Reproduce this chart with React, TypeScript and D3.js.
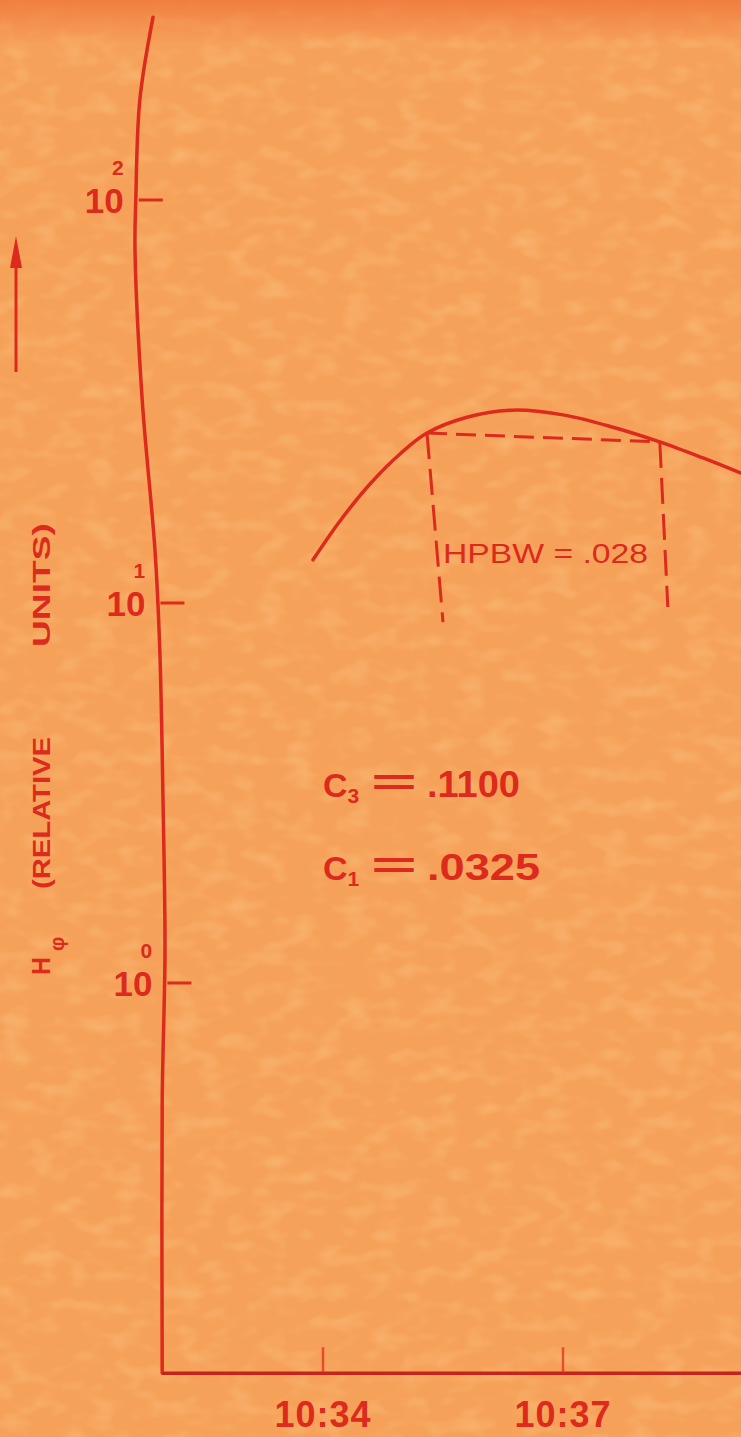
import React from "react";
import * as d3 from "d3";

// ---- data (time in minutes after 10:34, H-phi in relative units) ----
const timeTicks = [0, 3];
const timeLabels = ["10:34", "10:37"];
const yTicks = [100, 10, 1];
const yTickExp = ["2", "1", "0"];

const curveT = [-0.125, 0.2125, 0.5875, 0.9625, 1.3, 1.8, 2.375, 3.0, 3.625, 4.21, 4.75, 5.225];
const curveV = [12.8, 15.98, 19.74, 23.43, 26.4, 28.9, 30.1, 29.3, 27.3, 25.1, 22.9, 21.0];

// hand-drawn vertical axis trace
const axisTraceV = [284, 177, 100, 75.2, 31.9, 13.5, 7.5, 3.03, 1.22, 0.49, 0.094];
const axisTraceT = [-2.125, -2.29, -2.34, -2.35, -2.26, -2.1, -2.04, -2.0, -1.975, -2.01, -2.01];
const baselineV = 0.094;
const baselineEndT = 5.4;

// HPBW markers
const hpbwT = [1.3, 4.21];
const hpbwLevel = [26.4, 25.1];
const hpbwFootT = [1.5, 4.31];
const hpbwFootV = [8.9, 9.76];
const hpbwLabel = "HPBW = .028";
const hpbwLabelT = 1.5;
const hpbwLabelV = 12.6;

// coefficient annotations
const coefNames = ["C", "C"];
const coefSubs = ["3", "1"];
const coefValues = [".1100", ".0325"];
const coefT = [0.0, 0.0];
const coefV = [3.09, 1.87];

const W = 741;
const H = 1437;
const RED = "#dc2a1c";
const FONT = "'Liberation Sans', Arial, Helvetica, sans-serif";

export default function App() {
  const x = d3.scaleLinear().domain([0, 3]).range([323, 563]);
  const y = d3.scaleLog().domain([1, 10, 100]).range([983, 603, 200]);

  const axisPts = axisTraceV.map((v, i) => [axisTraceT[i], v] as [number, number]);
  const axisLine = d3
    .line<[number, number]>()
    .x((d) => x(d[0]))
    .y((d) => y(d[1]))
    .curve(d3.curveCatmullRom.alpha(0.5));
  const axisPath = axisLine(axisPts) || "";

  const axisXAt = (v: number) => {
    const lv = Math.log10(v);
    for (let i = 0; i < axisTraceV.length - 1; i++) {
      const a = Math.log10(axisTraceV[i]);
      const b = Math.log10(axisTraceV[i + 1]);
      if ((lv <= a && lv >= b) || (lv >= a && lv <= b)) {
        const f = (lv - a) / (b - a || 1);
        return x(axisTraceT[i] + f * (axisTraceT[i + 1] - axisTraceT[i]));
      }
    }
    return x(axisTraceT[axisTraceT.length - 1]);
  };

  const baseY = y(baselineV);
  const baseX0 = x(axisTraceT[axisTraceT.length - 1]);

  const curvePts = curveT.map((t, i) => [t, curveV[i]] as [number, number]);
  const curvePath =
    d3
      .line<[number, number]>()
      .x((d) => x(d[0]))
      .y((d) => y(d[1]))
      .curve(d3.curveCatmullRom.alpha(0.5))(curvePts) || "";

  return (
    <svg
      width={W}
      height={H}
      viewBox={`0 0 ${W} ${H}`}
      style={{ position: "absolute", left: 0, top: 0, display: "block" }}
    >
      <defs>
        <linearGradient id="topband" x1="0" y1="0" x2="0" y2="1">
          <stop offset="0" stopColor="#f07a3c" stopOpacity={0.9} />
          <stop offset="1" stopColor="#f07a3c" stopOpacity={0} />
        </linearGradient>
        <filter id="mottle" x="0" y="0" width="100%" height="100%">
          <feTurbulence type="fractalNoise" baseFrequency="0.035 0.06" numOctaves={2} seed={7} />
          <feColorMatrix
            type="matrix"
            values="0 0 0 0 0.99  0 0 0 0 0.76  0 0 0 0 0.34  0 0 0 1.6 -0.75"
          />
        </filter>
      </defs>
      <rect x={0} y={0} width={W} height={H} fill="#f6a15a" />
      <rect x={0} y={0} width={W} height={H} filter="url(#mottle)" opacity={0.4} />
      <rect x={0} y={0} width={W} height={45} fill="url(#topband)" />

      {/* axes */}
      <path d={axisPath} fill="none" stroke={RED} strokeWidth={3.5} strokeLinecap="round" />
      <line x1={baseX0} y1={baseY} x2={x(baselineEndT)} y2={baseY} stroke="#c8221c" strokeWidth={3.5} />

      {/* x ticks */}
      {timeTicks.map((t, i) => (
        <g key={"xt" + i}>
          <line x1={x(t)} y1={baseY} x2={x(t)} y2={baseY - 26} stroke={RED} strokeWidth={2.5} opacity={0.7} />
          <text
            x={x(t)}
            y={baseY + 54}
            textAnchor="middle"
            fontFamily={FONT}
            fontWeight="bold"
            fontSize={36}
            fill={RED}
            letterSpacing={1}
          >
            {timeLabels[i]}
          </text>
        </g>
      ))}

      {/* y ticks */}
      {yTicks.map((v, i) => {
        const ax = axisXAt(v);
        const ty = y(v);
        return (
          <g key={"yt" + i}>
            <line x1={ax + 3} y1={ty} x2={ax + 27} y2={ty} stroke={RED} strokeWidth={3} />
            <text
              x={ax - 12}
              y={ty + 13}
              textAnchor="end"
              fontFamily={FONT}
              fontWeight="bold"
              fontSize={35}
              fill={RED}
            >
              10
            </text>
            <text
              x={ax - 18}
              y={ty - 25}
              textAnchor="middle"
              fontFamily={FONT}
              fontWeight="bold"
              fontSize={21}
              fill={RED}
            >
              {yTickExp[i]}
            </text>
          </g>
        );
      })}

      {/* y axis title */}
      <g transform="translate(50,975) rotate(-90)" fontFamily={FONT} fontWeight="bold" fill={RED}>
        <text x={0} y={0} fontSize={25}>
          H
        </text>
        <text x={24} y={14} fontSize={20}>
          φ
        </text>
        <text x={86} y={0} fontSize={24} textLength={152} lengthAdjust="spacingAndGlyphs">
          (RELATIVE
        </text>
        <text x={328} y={0} fontSize={24} textLength={124} lengthAdjust="spacingAndGlyphs">
          UNITS)
        </text>
      </g>

      {/* arrow */}
      <line x1={16} y1={372} x2={16} y2={262} stroke={RED} strokeWidth={3} />
      <path d="M16,236 L10,268 L22,268 Z" fill={RED} />

      {/* curve */}
      <path d={curvePath} fill="none" stroke={RED} strokeWidth={3.5} strokeLinecap="round" />

      {/* HPBW dashed bracket */}
      <line
        x1={x(hpbwT[0])}
        y1={y(hpbwLevel[0])}
        x2={x(hpbwT[1])}
        y2={y(hpbwLevel[1])}
        stroke={RED}
        strokeWidth={3}
        strokeDasharray="20 9"
      />
      {hpbwT.map((t, i) => (
        <line
          key={"hv" + i}
          x1={x(t)}
          y1={y(hpbwLevel[i])}
          x2={x(hpbwFootT[i])}
          y2={y(hpbwFootV[i])}
          stroke={RED}
          strokeWidth={3}
          strokeDasharray="26 10"
        />
      ))}
      <text
        x={x(hpbwLabelT)}
        y={y(hpbwLabelV)}
        fontFamily={FONT}
        fontSize={27}
        fill={RED}
        textLength={205}
        lengthAdjust="spacingAndGlyphs"
      >
        {hpbwLabel}
      </text>

      {/* coefficients */}
      {coefNames.map((c, i) => {
        const cx = x(coefT[i]);
        const cy = y(coefV[i]);
        return (
          <g key={"c" + i} fontFamily={FONT} fontWeight="bold" fill={RED}>
            <text x={cx} y={cy} fontSize={34}>
              <tspan>{c}</tspan>
              <tspan fontSize={21} dy={6}>
                {coefSubs[i]}
              </tspan>
            </text>
            <text x={cx + 48} y={cy - 2} fontSize={36} textLength={46} lengthAdjust="spacingAndGlyphs">
              =
            </text>
            <text x={cx + 104} y={cy} fontSize={36} textLength={i === 0 ? 93 : 113} lengthAdjust="spacingAndGlyphs">
              {coefValues[i]}
            </text>
          </g>
        );
      })}
    </svg>
  );
}
